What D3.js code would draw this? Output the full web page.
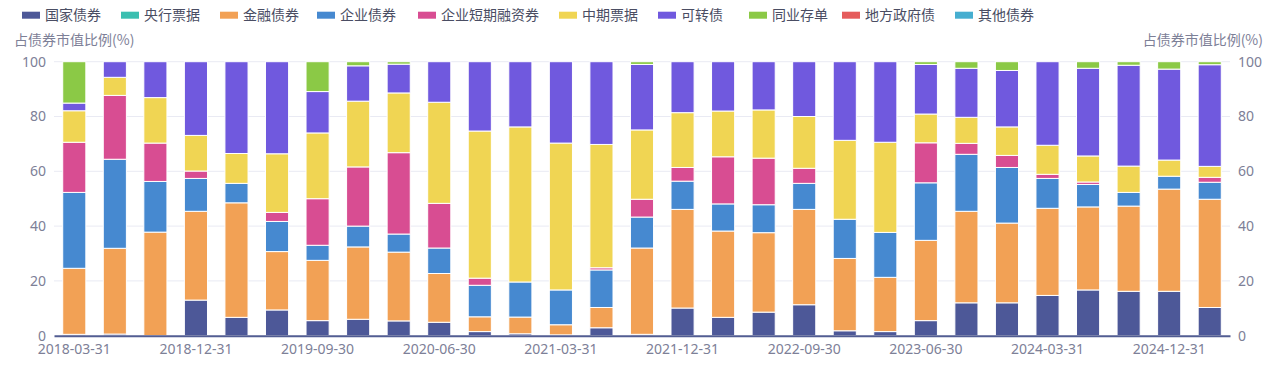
<!DOCTYPE html>
<html>
<head>
<meta charset="utf-8">
<script src="https://cdn.jsdelivr.net/npm/d3@7"></script>
<style>
  body { margin: 0; background: #fff; }
  svg { font-family: "Noto Sans CJK SC", "Noto Sans", sans-serif; display: block; }
</style>
</head>
<body>
<div id="chart"></div>
<script>
var dates = ["2018-03-31","2018-06-30","2018-09-30","2018-12-31","2019-03-31","2019-06-30","2019-09-30","2019-12-31",
  "2020-03-31","2020-06-30","2020-09-30","2020-12-31","2021-03-31","2021-06-30","2021-09-30","2021-12-31",
  "2022-03-31","2022-06-30","2022-09-30","2022-12-31","2023-03-31","2023-06-30","2023-09-30","2023-12-31",
  "2024-03-31","2024-06-30","2024-09-30","2024-12-31","2025-03-31"];

var seriesNames = ["国家债券","央行票据","金融债券","企业债券","企业短期融资券","中期票据","可转债","同业存单","地方政府债","其他债券"];
var seriesColors = ["#4d5898","#3bbfb0","#f2a155","#4689d0","#d84d92","#f0d553","#7059de","#8bc946","#e55b5b","#46aed0"];

var guojia   = [0.5,0.6,0,13.0,6.7,9.4,5.5,6.0,5.4,4.9,1.5,0.7,0.3,2.9,0.5,10.1,6.7,8.6,11.3,1.8,1.5,5.5,12.0,12.0,14.7,16.7,16.2,16.2,10.3];
var yanghang = [0,0,0,0,0,0,0,0,0,0,0,0,0,0,0,0,0,0,0,0,0,0,0,0,0,0,0,0,0];
var jinrong  = [24.1,31.3,37.8,32.4,41.8,21.3,22.0,26.4,25.1,17.8,5.4,6.1,3.7,7.4,31.5,36.0,31.5,29.0,34.8,26.4,19.8,29.3,33.4,29.1,31.8,30.3,31.1,37.3,39.5];
var qiye     = [27.7,32.5,18.5,12.0,7.1,11.0,5.5,7.6,6.6,9.3,11.5,12.8,12.7,13.7,11.3,10.3,9.9,10.2,9.5,14.3,16.4,21.0,20.8,20.3,10.9,8.2,5.0,4.7,6.2];
var duanrong = [18.3,23.3,14.0,2.7,0,3.3,17.0,21.6,29.7,16.3,2.6,0,0,0.8,6.5,5.0,17.2,17.0,5.5,0,0,14.6,4.0,4.4,1.5,0.9,0,0,1.8];
var zhongpiao= [11.5,6.6,16.6,13.0,10.9,21.4,24.0,24.0,21.8,36.9,53.7,56.6,53.6,45.0,25.3,20.0,16.7,17.6,18.9,28.8,32.9,10.5,9.5,10.4,10.6,9.5,9.6,5.9,4.0];
var kezhuan  = [2.8,5.7,13.1,26.9,33.5,33.6,15.1,12.9,10.5,14.8,25.3,23.8,29.7,30.2,23.9,18.6,18.0,17.6,20.0,28.7,29.4,18.1,17.9,20.6,30.5,32.0,36.8,33.2,37.1];
var tongye   = [15.1,0,0,0,0,0,10.9,1.5,0.9,0,0,0,0,0,1.0,0,0,0,0,0,0,1.0,2.4,3.2,0,2.4,1.3,2.7,1.1];
var difang   = [0,0,0,0,0,0,0,0,0,0,0,0,0,0,0,0,0,0,0,0,0,0,0,0,0,0,0,0,0];
var qita     = [0,0,0,0,0,0,0,0,0,0,0,0,0,0,0,0,0,0,0,0,0,0,0,0,0,0,0,0,0];

var yTicks = [0,20,40,60,80,100];

function drawChart() {
  var w = 1283, h = 370;
  var left = 54, right = 1230, top = 61.7, bottom = 335.7;

  var svg = d3.select("#chart").append("svg")
    .attr("width", w).attr("height", h);

  var allSeries = [guojia, yanghang, jinrong, qiye, duanrong, zhongpiao, kezhuan, tongye, difang, qita];
  var rows = dates.map(function(d, i) {
    var r = { date: d };
    seriesNames.forEach(function(n, k) { r[n] = allSeries[k][i]; });
    return r;
  });
  var stacked = d3.stack().keys(seriesNames)(rows);

  var xScale = d3.scaleBand().domain(dates).range([left, right]).padding(0);
  var yScale = d3.scaleLinear().domain([0, 100]).range([bottom, top]);
  var barW = xScale.bandwidth() * 0.57;

  // grid lines
  svg.append("g").selectAll("line")
    .data(yTicks.filter(function(t) { return t > 0; }))
    .enter().append("line")
    .attr("x1", left).attr("x2", right)
    .attr("y1", function(d) { return yScale(d); })
    .attr("y2", function(d) { return yScale(d); })
    .attr("stroke", "#e9eaf3").attr("stroke-width", 1);

  // bars
  svg.append("g").selectAll("g")
    .data(stacked)
    .enter().append("g")
    .attr("fill", function(d, k) { return seriesColors[k]; })
    .selectAll("rect")
    .data(function(d) { return d.filter(function(s) { return s[1] - s[0] > 0; }); })
    .enter().append("rect")
    .attr("x", function(d) { return xScale(d.data.date) + (xScale.bandwidth() - barW) / 2; })
    .attr("y", function(d) { return yScale(d[1]); })
    .attr("width", barW)
    .attr("height", function(d) { return yScale(d[0]) - yScale(d[1]); })
    .attr("stroke", "#fff").attr("stroke-width", 1);

  // x axis
  var xAxis = d3.axisBottom(xScale)
    .tickValues(dates.filter(function(d, i) { return i % 3 === 0; }))
    .tickSize(0).tickPadding(8);
  var gx = svg.append("g")
    .attr("transform", "translate(0," + bottom + ")")
    .call(xAxis);
  gx.select(".domain").attr("stroke", "#525d92").attr("stroke-width", 2);
  gx.selectAll("text").attr("fill", "#7d8097").attr("font-size", 14)
    .attr("font-family", "'Noto Sans', sans-serif");

  // y axes
  var yl = svg.append("g").attr("transform", "translate(" + left + ",0)")
    .call(d3.axisLeft(yScale).tickValues(yTicks).tickSize(0).tickPadding(8));
  var yr = svg.append("g").attr("transform", "translate(" + right + ",0)")
    .call(d3.axisRight(yScale).tickValues(yTicks).tickSize(0).tickPadding(8));
  [yl, yr].forEach(function(g) {
    g.select(".domain").remove();
    g.selectAll("text").attr("fill", "#7d8097").attr("font-size", 14)
      .attr("font-family", "'Noto Sans', sans-serif");
  });

  // axis names
  svg.append("text").attr("x", 14).attr("y", 45)
    .attr("fill", "#7d8097").attr("font-size", 14)
    .text("占债券市值比例(%)");
  svg.append("text").attr("x", 1263).attr("y", 45)
    .attr("text-anchor", "end")
    .attr("fill", "#7d8097").attr("font-size", 14)
    .text("占债券市值比例(%)");

  // legend
  var legendX = [22, 121, 220, 317, 418, 559, 658, 749, 842, 955];
  var legend = svg.append("g").selectAll("g")
    .data(seriesNames)
    .enter().append("g")
    .attr("transform", function(d, i) { return "translate(" + legendX[i] + ",0)"; });
  legend.append("rect")
    .attr("x", 0).attr("y", 11.7).attr("width", 18).attr("height", 7)
    .attr("fill", function(d, i) { return seriesColors[i]; });
  legend.append("text")
    .attr("x", 23).attr("y", 20)
    .attr("fill", "#4a4d63").attr("font-size", 14)
    .text(function(d) { return d; });
}

window.onload = function () {
  drawChart();
};
</script>
</body>
</html>
